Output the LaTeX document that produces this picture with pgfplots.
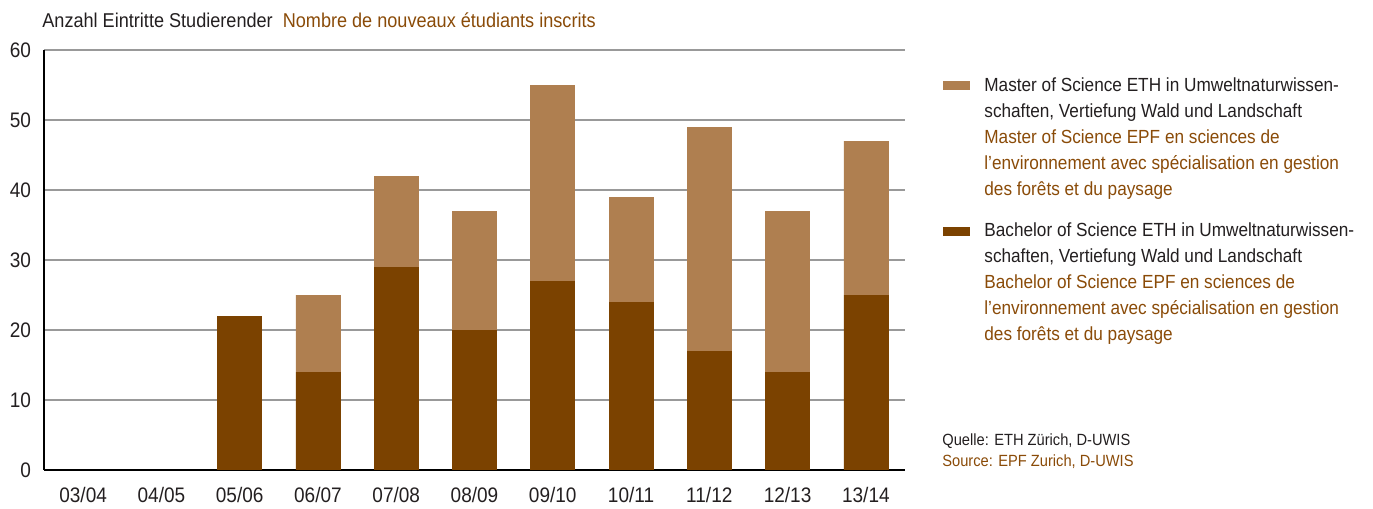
\documentclass[border=0pt]{standalone}
\usepackage{fontspec}
\setmainfont{Liberation Sans}[FakeStretch=0.905]
\usepackage{pgfplots}
\pgfplotsset{compat=1.18}
\definecolor{bach}{HTML}{7B4200}
\definecolor{mast}{HTML}{AF7F50}
\definecolor{txtbrown}{HTML}{8A4B08}
\definecolor{txtgray}{HTML}{231F20}
\newcommand\legline[3]{\node[anchor=base west,inner sep=0pt,text=#2,font=\fontsize{9.5}{12}\selectfont] at (470pt,#1pt) {#3};}
\begin{document}
\begin{tikzpicture}
\path[use as bounding box] (-22pt,-19.5pt) rectangle (664.5pt,235pt);
\begin{axis}[
  width=430.5pt, height=210pt, scale only axis,
  xmin=-0.5, xmax=10.5, ymin=0, ymax=60,
  ybar stacked, bar width=22pt,
  xtick={0,...,10},
  xticklabels={03/04,04/05,05/06,06/07,07/08,08/09,09/10,10/11,11/12,12/13,13/14},
  ytick={0,10,...,60},
  ymajorgrids, grid style={gray!80, line width=0.6pt},
  axis lines*=left, axis line style={-, black},
  x axis line style={line width=0.8pt},
  y axis line style={line width=1.2pt},
  major tick length=0pt,
  /pgf/number format/assume math mode=true,
  ticklabel style={font=\fontsize{10.5}{12}\selectfont, text=txtgray},
  yticklabel style={xshift=-3pt},
  xticklabel style={yshift=-5pt},
]
\addplot[fill=bach, draw=bach, line width=0.3pt] coordinates {
  (0,0) (1,0) (2,22) (3,14) (4,29) (5,20) (6,27) (7,24) (8,17) (9,14) (10,25)};
\addplot[fill=mast, draw=mast, line width=0.3pt] coordinates {
  (0,0) (1,0) (2,0) (3,11) (4,13) (5,17) (6,28) (7,15) (8,32) (9,23) (10,22)};
\end{axis}
\node[anchor=base west, inner sep=0pt, font=\fontsize{10}{12}\selectfont] at (-1pt,221pt)
  {\textcolor{txtgray}{Anzahl Eintritte Studierender}\hspace{5pt}\textcolor{txtbrown}{Nombre de nouveaux étudiants inscrits}};
\fill[mast] (449.5pt,189.75pt) rectangle (463pt,194.25pt);
\fill[bach] (449.5pt,116.75pt) rectangle (463pt,121.25pt);
\legline{189}{txtgray}{Master of Science ETH in Umweltnaturwissen-}
\legline{176}{txtgray}{schaften, Vertiefung Wald und Landschaft}
\legline{163}{txtbrown}{Master of Science EPF en sciences de}
\legline{150}{txtbrown}{l’environnement avec spécialisation en gestion}
\legline{137}{txtbrown}{des forêts et du paysage}
\legline{116.5}{txtgray}{Bachelor of Science ETH in Umweltnaturwissen-}
\legline{103.5}{txtgray}{schaften, Vertiefung Wald und Landschaft}
\legline{90.5}{txtbrown}{Bachelor of Science EPF en sciences de}
\legline{77.5}{txtbrown}{l’environnement avec spécialisation en gestion}
\legline{64.5}{txtbrown}{des forêts et du paysage}
\node[anchor=base west, inner sep=0pt, text=txtgray, font=\fontsize{8.1}{10}\selectfont] at (449pt,12pt) {Quelle: ETH Zürich, D-UWIS};
\node[anchor=base west, inner sep=0pt, text=txtbrown, font=\fontsize{8.1}{10}\selectfont] at (449pt,1.5pt) {Source: EPF Zurich, D-UWIS};
\end{tikzpicture}
\end{document}
